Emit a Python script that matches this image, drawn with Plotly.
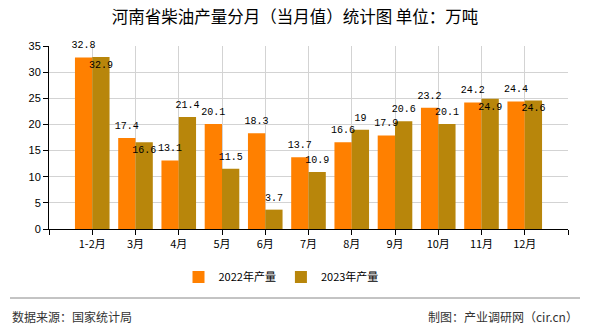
import plotly.graph_objects as go

categories = ["1-2月", "3月", "4月", "5月", "6月", "7月", "8月", "9月", "10月", "11月", "12月"]
values_2022 = [32.8, 17.4, 13.1, 20.1, 18.3, 13.7, 16.6, 17.9, 23.2, 24.2, 24.4]
values_2023 = [32.9, 16.6, 21.4, 11.5, 3.7, 10.9, 19, 20.6, 20.1, 24.9, 24.6]
label_pos_2023 = ["bottom center", "bottom center", "top center", "top center", "top center",
                  "top center", "top center", "top center", "top center",
                  "bottom center", "bottom center"]
y_ticks = [0, 5, 10, 15, 20, 25, 30, 35]

xpos = list(range(1, len(categories) + 1))
BARGAP = 0.2
half_bar = (1 - BARGAP) / 4  # centre offset of each bar within its group
label_font = dict(family="Liberation Mono", size=10, color="#000000")
pad_size = {"top center": 9, "bottom center": 4}

fig = go.Figure()
fig.add_trace(go.Bar(
    x=xpos, y=values_2022, name="2022年产量",
    marker=dict(color="#FF8000", line=dict(width=0)),
))
fig.add_trace(go.Bar(
    x=xpos, y=values_2023, name="2023年产量",
    marker=dict(color="#B8860B", line=dict(width=0)),
))
# value labels drawn on top of all bars
fig.add_trace(go.Scatter(
    x=[p - half_bar for p in xpos], y=values_2022,
    mode="markers+text", text=[str(v) for v in values_2022],
    textposition="top center", textfont=label_font,
    marker=dict(size=pad_size["top center"], opacity=0),
    showlegend=False, hoverinfo="skip", cliponaxis=False,
))
fig.add_trace(go.Scatter(
    x=[p + half_bar for p in xpos], y=values_2023,
    mode="markers+text", text=[str(v) for v in values_2023],
    textposition=label_pos_2023, textfont=label_font,
    marker=dict(size=[pad_size[p] for p in label_pos_2023], opacity=0),
    showlegend=False, hoverinfo="skip", cliponaxis=False,
))

L, R, T, B = 49, 22, 46, 101
W, H = 590, 330
pw, ph = W - L - R, H - T - B

def px_to_paper_x(px):
    return (px - L) / pw

def px_to_paper_y(py):
    return (H - B - py) / ph

fig.update_layout(
    width=W, height=H,
    margin=dict(l=L, r=R, t=T, b=B, pad=0),
    paper_bgcolor="white", plot_bgcolor="white",
    barmode="group", bargap=BARGAP, bargroupgap=0,
    showlegend=True,
    title=dict(text="河南省柴油产量分月（当月值）统计图 单位：万吨",
               x=0.5, xanchor="center", y=1 - 17 / H, yanchor="middle",
               font=dict(family="Noto Sans CJK SC", size=16.5, color="#000000")),
    legend=dict(orientation="h", x=px_to_paper_x(281), xanchor="center",
                y=px_to_paper_y(277), yanchor="middle",
                font=dict(family="Noto Sans CJK SC", size=11, color="#000000"),
                itemwidth=30, traceorder="normal", tracegroupgap=0),
    font=dict(family="Noto Sans CJK SC", size=11, color="#000000"),
)

fig.update_xaxes(
    range=[0, len(categories) + 1],
    tickmode="array",
    tickvals=[0] + xpos + [len(categories) + 1],
    ticktext=[""] + categories + [""],
    ticks="outside", ticklen=5, tickcolor="#000000",
    showgrid=True, gridcolor="#D3D3D3", gridwidth=1,
    showline=True, linecolor="#000000", linewidth=1,
    zeroline=False,
    tickfont=dict(family="Noto Sans CJK SC", size=11, color="#000000"),
    fixedrange=True,
)
fig.update_yaxes(
    range=[0, 35],
    tickmode="array", tickvals=y_ticks,
    ticks="outside", ticklen=5, tickcolor="#000000",
    showgrid=True, gridcolor="#D3D3D3", gridwidth=1,
    showline=True, linecolor="#000000", linewidth=1,
    zeroline=False,
    tickfont=dict(family="Liberation Sans", size=11, color="#000000"),
    fixedrange=True,
)

# footer separator and source notes
fig.add_shape(type="line", xref="paper", yref="paper",
              x0=px_to_paper_x(10), x1=px_to_paper_x(580),
              y0=px_to_paper_y(298), y1=px_to_paper_y(298),
              line=dict(color="#888888", width=1))
fig.add_annotation(text="数据来源：国家统计局", xref="paper", yref="paper",
                   x=px_to_paper_x(10), y=px_to_paper_y(316),
                   xanchor="left", yanchor="middle", showarrow=False,
                   font=dict(family="Noto Sans CJK SC", size=12, color="#333333"))
fig.add_annotation(text="制图：产业调研网（cir.cn）", xref="paper", yref="paper",
                   x=px_to_paper_x(580), y=px_to_paper_y(316),
                   xanchor="right", yanchor="middle", showarrow=False,
                   font=dict(family="Noto Sans CJK SC", size=12, color="#333333"))

fig.write_html("out.html", config={"displayModeBar": False})
